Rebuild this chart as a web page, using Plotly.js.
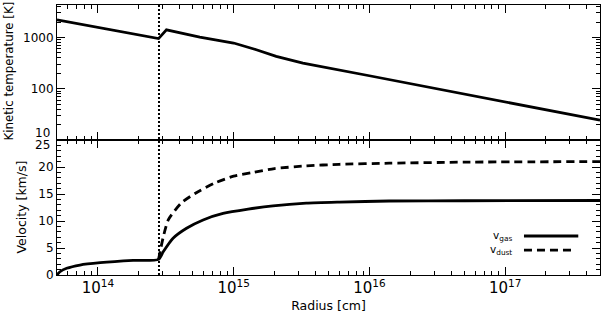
<!DOCTYPE html>
<html><head><meta charset="utf-8">
<script src="https://cdn.plot.ly/plotly-3.0.1.min.js"></script>
<style>html,body{margin:0;padding:0;background:#fff}</style>
</head><body><div id="chart" style="width:602px;height:313px"></div>
<script>
// Kinetic temperature profile
const radiusT = [5e13, 1e14, 1.72e14, 2.8e14, 3.2e14, 5.63e14, 1e15, 1.47e15, 2.06e15, 3.24e15, 1e16, 1e17, 5e17];
const tempK   = [2210, 1560, 1218, 950, 1410, 1018, 778, 576, 427, 317, 179, 55, 24.3];
// Gas velocity
const radiusGas = [5e13, 5.26e13, 5.89e13, 7.38e13, 1.04e14, 1.82e14, 2.8e14, 3.03e14, 3.58e14, 4.5e14, 5.96e14, 8.36e14, 1.28e15, 1.95e15, 3.43e15, 6.03e15, 1.4e16, 5e16, 5e17];
const vGas      = [0, 0.6, 1.24, 1.85, 2.28, 2.7, 2.9, 4.3, 6.8, 8.65, 10.2, 11.4, 12.2, 12.8, 13.3, 13.5, 13.7, 13.75, 13.8];
// Dust velocity
const radiusDust = [2.8e14, 2.9e14, 3.03e14, 3.3e14, 4.1e14, 5.2e14, 7.2e14, 1e15, 1.4e15, 2e15, 3.4e15, 6e15, 1.4e16, 5e16, 5e17];
const vDust      = [2.9, 4.8, 7.0, 10.2, 13.3, 15.1, 17.0, 18.3, 19.0, 19.7, 20.2, 20.5, 20.7, 20.9, 21.0];
// Condensation radius (dotted line)
const rCond = 2.82e14;
// Axis ranges and tick labels
const xRange = [5e13, 5e17];
const tRange = [10, 4290];
const vRange = [0, 25];
const tTickVals = [10, 100, 1000];
const tTickText = ['', '100', '1000'];
const vTickVals = [0, 5, 10, 15, 20, 25];
const vTickText = ['0', '5', '10', '15', '20', ''];
const legendLabels = ['v<sub>gas</sub>', 'v<sub>dust</sub>'];

// minor tick positions
function logMinors(a, b) { const out = []; for (let e = a; e <= b; e++) for (let m = 2; m <= 9; m++) out.push(m * Math.pow(10, e)); return out; }
const xMinor = logMinors(13, 17).filter(v => v >= 5e13 && v <= 5e17);
const tMinor = logMinors(1, 3).filter(v => v <= 4290);
const vMinor = []; for (let i = 0; i <= 25; i++) if (i % 5) vMinor.push(i);

const FONT = 'DejaVu Sans, Liberation Sans, sans-serif';
const axisCommon = {
  showline: true, linecolor: 'black', linewidth: 1, mirror: 'allticks',
  ticks: 'inside', ticklen: 8, tickwidth: 1, tickcolor: 'black',
  showgrid: false, zeroline: false,
  tickfont: {family: FONT, size: 12, color: 'black'}
};
const minorCommon = {
  showline: false, mirror: 'allticks', ticks: 'inside', ticklen: 4, tickwidth: 1, tickcolor: 'black',
  showgrid: false, zeroline: false, showticklabels: false, tickmode: 'array'
};

const traces = [
  {x: radiusT, y: tempK, xaxis: 'x2', yaxis: 'y2', mode: 'lines', line: {color: 'black', width: 2.8}, showlegend: false},
  {x: radiusGas, y: vGas, xaxis: 'x', yaxis: 'y', mode: 'lines', line: {color: 'black', width: 2.8, shape: 'spline', smoothing: 0.6}, showlegend: false},
  {x: radiusDust, y: vDust, xaxis: 'x', yaxis: 'y', mode: 'lines', line: {color: 'black', width: 2.8, dash: '8px,5px', shape: 'spline', smoothing: 0.6}, showlegend: false},
  // empty carriers so the minor-tick overlay axes get drawn
  {x: [], y: [], xaxis: 'x3', yaxis: 'y3', mode: 'lines', showlegend: false, hoverinfo: 'skip'},
  {x: [], y: [], xaxis: 'x4', yaxis: 'y4', mode: 'lines', showlegend: false, hoverinfo: 'skip'}
];

const layout = {
  width: 602, height: 313,
  margin: {l: 57, r: 2, t: 5, b: 38},
  paper_bgcolor: 'white', plot_bgcolor: 'white',
  font: {family: FONT, size: 12, color: 'black'},
  showlegend: false,
  xaxis: Object.assign({}, axisCommon, {
    type: 'log', range: xRange.map(Math.log10), anchor: 'y', dtick: 1,
    exponentformat: 'power',
    title: {text: 'Radius [cm]', font: {family: FONT, size: 12.5}, standoff: 4}
  }),
  xaxis2: Object.assign({}, axisCommon, {
    type: 'log', range: xRange.map(Math.log10), anchor: 'y2', matches: 'x', dtick: 1,
    showticklabels: false
  }),
  xaxis3: Object.assign({}, minorCommon, {type: 'log', range: xRange.map(Math.log10), overlaying: 'x', anchor: 'y3', tickvals: xMinor}),
  xaxis4: Object.assign({}, minorCommon, {type: 'log', range: xRange.map(Math.log10), overlaying: 'x2', anchor: 'y4', tickvals: xMinor}),
  yaxis: Object.assign({}, axisCommon, {
    domain: [0, 0.5], range: vRange, anchor: 'x', tickmode: 'array', tickvals: vTickVals, ticktext: vTickText
  }),
  yaxis2: Object.assign({}, axisCommon, {
    domain: [0.5, 1], type: 'log', range: tRange.map(Math.log10), anchor: 'x2',
    tickmode: 'array', tickvals: tTickVals, ticktext: tTickText
  }),
  yaxis3: Object.assign({}, minorCommon, {domain: [0, 0.5], range: vRange, overlaying: 'y', anchor: 'x3', tickvals: vMinor}),
  yaxis4: Object.assign({}, minorCommon, {domain: [0.5, 1], type: 'log', range: tRange.map(Math.log10), overlaying: 'y2', anchor: 'x4', tickvals: tMinor}),
  shapes: [
    {type: 'line', xref: 'x', yref: 'paper', x0: rCond, x1: rCond, y0: 0, y1: 1,
     line: {color: 'black', width: 2, dash: '2px,2px'}},
    {type: 'line', xref: 'x domain', yref: 'y domain', x0: 0.86, x1: 0.96, y0: 0.289, y1: 0.289,
     line: {color: 'black', width: 2.8}},
    {type: 'line', xref: 'x domain', yref: 'y domain', x0: 0.86, x1: 0.949, y0: 0.185, y1: 0.185,
     line: {color: 'black', width: 2.8, dash: '8px,5px'}}
  ],
  annotations: [
    {xref: 'x domain', yref: 'y domain', x: 0.842, y: 0.289, xanchor: 'right', yanchor: 'middle',
     text: legendLabels[0], showarrow: false, font: {family: FONT, size: 10.5, color: 'black'}},
    {xref: 'x domain', yref: 'y domain', x: 0.842, y: 0.185, xanchor: 'right', yanchor: 'middle',
     text: legendLabels[1], showarrow: false, font: {family: FONT, size: 10.5, color: 'black'}},
    // edge tick labels, nudged inward as in the reference
    {xref: 'paper', yref: 'y2', x: 0, xshift: -5, y: Math.log10(tTickVals[0]), yshift: 7, xanchor: 'right', yanchor: 'middle',
     text: String(tTickVals[0]), showarrow: false, font: {family: FONT, size: 12, color: 'black'}},
    {xref: 'paper', yref: 'y', x: 0, xshift: -5, y: vTickVals[5], yshift: -5, xanchor: 'right', yanchor: 'middle',
     text: String(vTickVals[5]), showarrow: false, font: {family: FONT, size: 12, color: 'black'}},
    // axis titles
    {xref: 'paper', yref: 'y2 domain', x: 0, xshift: -49, y: 0.5, yshift: 1, xanchor: 'center', yanchor: 'middle', textangle: -90,
     text: 'Kinetic temperature [K]', showarrow: false, font: {family: FONT, size: 11.8, color: 'black'}},
    {xref: 'paper', yref: 'y domain', x: 0, xshift: -36, y: 0.5, xanchor: 'center', yanchor: 'middle', textangle: -90,
     text: 'Velocity [km/s]', showarrow: false, font: {family: FONT, size: 12.5, color: 'black'}}
  ]
};

Plotly.newPlot('chart', traces, layout, {displayModeBar: false, staticPlot: true});
</script></body></html>
